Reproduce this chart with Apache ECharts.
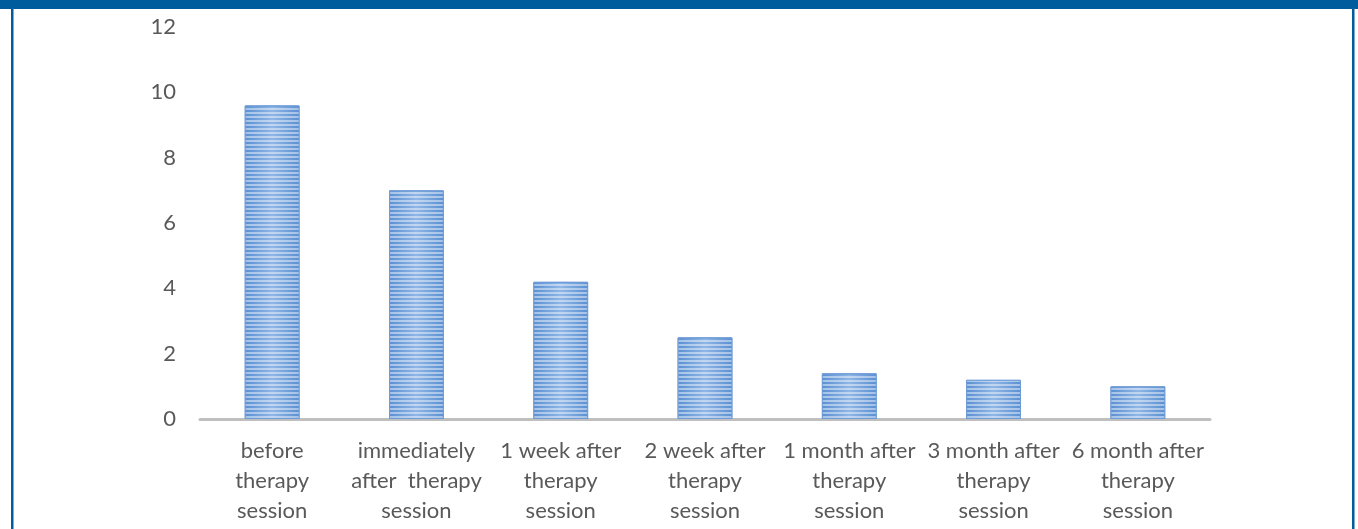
<!DOCTYPE html>
<html>
<head>
<meta charset="utf-8">
<script src="https://cdn.jsdelivr.net/npm/echarts@6/dist/echarts.min.js"></script>
<style>
  html, body { margin: 0; padding: 0; background: #fff; }
  #chart { width: 1358px; height: 529px; }
</style>
</head>
<body>
<div id="chart"></div>
<script>
const categories = [
  "before\ntherapy\nsession",
  "immediately\nafter  therapy\nsession",
  "1 week after\ntherapy\nsession",
  "2 week after\ntherapy\nsession",
  "1 month after\ntherapy\nsession",
  "3 month after\ntherapy\nsession",
  "6 month after\ntherapy\nsession"
];
const values = [9.6, 7.0, 4.2, 2.5, 1.4, 1.2, 1.0];
const yTicks = [0, 2, 4, 6, 8, 10, 12];

const chart = echarts.init(document.getElementById("chart"));

const option = {
  animation: false,
  grid: { left: 200, right: 148, top: 27, bottom: 110 },
  xAxis: {
    type: "category",
    data: categories,
    axisTick: { show: false },
    axisLine: { lineStyle: { color: "#bfbfbf", width: 3 } },
    axisLabel: {
      interval: 0,
      color: "#595959",
      fontFamily: "Lato",
      fontSize: 22,
      lineHeight: 30,
      margin: 17
    }
  },
  yAxis: {
    type: "value",
    min: yTicks[0],
    max: yTicks[yTicks.length - 1],
    interval: 2,
    splitLine: { show: false },
    axisLine: { show: false },
    axisTick: { show: false },
    axisLabel: {
      color: "#595959",
      fontFamily: "Lato",
      fontSize: 22,
      margin: 24
    }
  },
  series: [
    {
      type: "bar",
      data: values,
      barWidth: "38%",
      itemStyle: {
        color: {
          type: "linear", x: 0, y: 0, x2: 1, y2: 0,
          colorStops: [
            { offset: 0, color: "#5a8fd2" },
            { offset: 0.5, color: "#8fb6e6" },
            { offset: 1, color: "#5a8fd2" }
          ]
        },
        borderColor: "#6d9bd6",
        borderWidth: 1,
        decal: {
          symbol: "rect",
          dashArrayX: [1, 0],
          dashArrayY: [2, 2],
          color: "rgba(255,255,255,0.45)"
        }
      }
    }
  ],
  graphic: [
    { type: "rect", shape: { x: 0, y: 0, width: 1358, height: 9 }, style: { fill: "#005c9c" } },
    { type: "rect", shape: { x: 11, y: 0, width: 2.5, height: 529 }, style: { fill: "#005c9c" } },
    { type: "rect", shape: { x: 1352, y: 0, width: 2.5, height: 529 }, style: { fill: "#005c9c" } }
  ]
};

chart.setOption(option);
</script>
</body>
</html>
